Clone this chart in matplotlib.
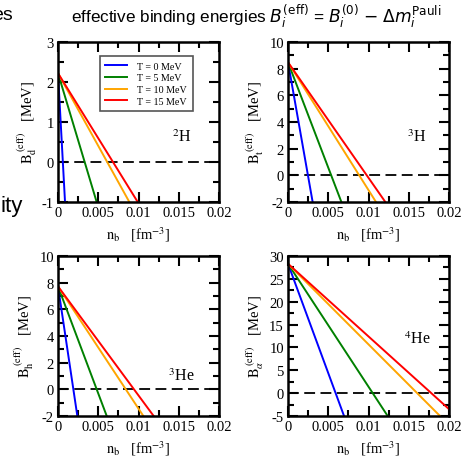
import matplotlib
matplotlib.use("Agg")
import matplotlib.pyplot as plt
from matplotlib.ticker import MultipleLocator, FixedLocator

plt.rcParams['font.family'] = ['Liberation Serif', 'DejaVu Serif']
plt.rcParams['mathtext.fontset'] = 'stix'

# legend labels and colours (one line per temperature)
temps = ['T = 0 MeV', 'T = 5 MeV', 'T = 10 MeV', 'T = 15 MeV']
colors = ['#0000ff', '#008000', '#ffa500', '#ff0000']

# B^(eff) at n_b = 0, and where each line leaves the frame (n_b, B)
b0_d = 2.22
n_end_d = [0.00087, 0.0048, 0.00886, 0.0099]
b_end_d = [-1, -1, -1, -1]

b0_t = 8.48
n_end_t = [0.00306, 0.00663, 0.01093, 0.01209]
b_end_t = [-2, -2, -2, -2]

b0_h = 7.72
n_end_h = [0.0024, 0.00605, 0.0106, 0.01188]
b_end_h = [-2, -2, -2, -2]

b0_a = 28.3
n_end_a = [0.00696, 0.01238, 0.01888, 0.02]
b_end_a = [-5, -5, -5, -3.5]

xticks = [0, 0.005, 0.01, 0.015, 0.02]
xticklabels = ['0', '0.005', '0.01', '0.015', '0.02']

panels = [
    # (axes rect, b0, n_end, b_end, ylim, ymajor, yminor, subscript, nucleus, label pos)
    ([0.1237, 0.5587, 0.3433, 0.3478], b0_d, n_end_d, b_end_d, (-1, 3), 1, 0.5,
     r'\mathrm{d}', r'$^{2}$H', (0.71, 0.41)),
    ([0.6141, 0.5587, 0.3433, 0.3478], b0_t, n_end_t, b_end_t, (-2, 10), 2, 1,
     r'\mathrm{t}', r'$^{3}$H', (0.74, 0.41)),
    ([0.1237, 0.0935, 0.3433, 0.3478], b0_h, n_end_h, b_end_h, (-2, 10), 2, 1,
     r'\mathrm{h}', r'$^{3}$He', (0.68, 0.25)),
    ([0.6141, 0.0935, 0.3433, 0.3478], b0_a, n_end_a, b_end_a, (-5, 30), 5, 2.5,
     r'\alpha', r'$^{4}$He', (0.72, 0.48)),
]

fig = plt.figure(figsize=(4.69, 4.60), dpi=100)

for i, (rect, b0, n_end, b_end, ylim, ymaj, ymin, sub, nuc, pos) in enumerate(panels):
    ax = fig.add_axes(rect)
    ax.axhline(0, color='black', lw=1.3, ls=(0, (6, 3)))
    for k in range(4):
        ax.plot([0, n_end[k]], [b0, b_end[k]], color=colors[k], lw=1.4, label=temps[k])
    ax.set_xlim(0, 0.02)
    ax.set_ylim(*ylim)
    ax.xaxis.set_major_locator(FixedLocator(xticks))
    ax.set_xticklabels(xticklabels)
    ax.xaxis.set_minor_locator(MultipleLocator(0.0025))
    yt = list(range(ylim[0], ylim[1] + 1, ymaj))
    ax.set_yticks(yt)
    ax.set_yticklabels([str(v) for v in yt])
    ax.yaxis.set_minor_locator(MultipleLocator(ymin))
    ax.tick_params(which='both', direction='in', top=True, right=True,
                   labelsize=10.5, width=1.5, pad=3)
    ax.tick_params(which='major', length=7)
    ax.tick_params(which='minor', length=4)
    for s in ax.spines.values():
        s.set_linewidth(1.8)
    ax.set_ylabel(r'$\mathrm{B}_{' + sub + r'}^{\ \mathrm{(eff)}}$   [MeV]', fontsize=10.5, labelpad=2)
    ax.set_xlabel(r'$\mathrm{n}_{\mathrm{b}}$   [fm$^{-3}$]', fontsize=10.5, labelpad=4)
    ax.text(pos[0], pos[1], nuc, transform=ax.transAxes, fontsize=11.5,
            ha='left', va='center')
    if i == 0:
        leg = ax.legend(loc='upper left', bbox_to_anchor=(0.26, 0.9125), borderaxespad=0,
                        fontsize=7.2, fancybox=False, framealpha=1, edgecolor='#555555',
                        handlelength=2.2, handletextpad=1.0, labelspacing=0.28,
                        borderpad=0.55)
        leg.get_frame().set_linewidth(1.2)

fig.text(0.546, 0.9507,
         r'effective binding energies $B_i^{\rm (eff)}$ = $B_i^{(0)}$ $-$ $\Delta m_i^{\rm Pauli}$',
         ha='center', va='baseline', fontsize=12.3, family=['Liberation Sans', 'DejaVu Sans'],
         math_fontfamily='dejavusans')

# fragments of slide text at the left edge
fig.text(0.028, 0.9565, 'es', ha='right', va='baseline', fontsize=14,
         family=['Liberation Sans', 'DejaVu Sans'])
fig.text(0.049, 0.539, 'ity', ha='right', va='baseline', fontsize=16,
         family=['Liberation Sans', 'DejaVu Sans'])

fig.savefig('out.png', dpi=100)
